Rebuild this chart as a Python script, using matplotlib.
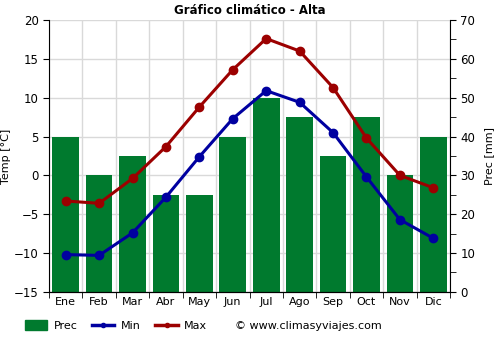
import numpy as np
import matplotlib.pyplot as plt
from matplotlib.lines import Line2D
from matplotlib.patches import Patch

months = ["Ene", "Feb", "Mar", "Abr", "May", "Jun", "Jul", "Ago", "Sep", "Oct", "Nov", "Dic"]
prec = [40, 30, 35, 25, 25, 40, 50, 45, 35, 45, 30, 40]
t_min = [-10.2, -10.3, -7.4, -2.8, 2.4, 7.3, 10.9, 9.4, 5.5, -0.2, -5.7, -8.1]
t_max = [-3.3, -3.6, -0.4, 3.7, 8.8, 13.6, 17.6, 16.0, 11.3, 4.8, 0.0, -1.6]

green = "#007a2e"
blue = "#0000a0"
red = "#9c0000"

fig = plt.figure(figsize=(5, 3.5), dpi=100)
ax = fig.add_axes([0.098, 0.166, 0.802, 0.777])
ax2 = ax.twinx()

x = np.arange(len(months))

# precipitation bars on the right axis, drawn behind the temperature lines
ax2.bar(x, prec, width=0.8, color=green, zorder=2)
ax2.set_ylim(0, 70)
ax2.set_yticks(np.arange(0, 71, 10))
ax2.set_yticks(np.arange(0, 71, 5), minor=True)
ax2.set_ylabel("Prec [mm]", fontsize=8, labelpad=6)
ax2.tick_params(labelsize=8.5, length=4)
ax2.tick_params(which="minor", length=4)

ax.set_zorder(ax2.get_zorder() + 1)
ax.patch.set_visible(False)
ax2.patch.set_visible(True)

ax.plot(x, t_min, color=blue, lw=2.2, marker="o", ms=6, zorder=3)
ax.plot(x, t_max, color=red, lw=2.2, marker="o", ms=6, zorder=3)
ax.set_ylim(-15, 20)
ax.set_yticks(np.arange(-15, 21, 5))
ax.set_xlim(-0.5, 11.5)
ax.set_xticks(x)
ax.set_xticklabels(months)
ax.set_xticks(np.arange(-0.5, 12, 1), minor=True)
ax.tick_params(axis="x", which="major", length=0, labelsize=8)
ax.tick_params(axis="x", which="minor", length=4)
ax.tick_params(axis="y", labelsize=8.5, length=4)
ax.set_ylabel("Temp [°C]", fontsize=8, labelpad=2)

# grid on the background axes so it sits under the bars
ax2.grid(False)
for yv in np.arange(-15, 21, 5):
    ax2.axhline((yv + 15) * 2, color="#d9d9d9", lw=1, zorder=0)
for xv in np.arange(-0.5, 12, 1):
    ax2.axvline(xv, color="#d9d9d9", lw=1, zorder=0)

for a in (ax, ax2):
    a.spines["top"].set_visible(False)
ax.spines["right"].set_visible(False)
ax2.spines["left"].set_visible(False)

ax.set_title("Gráfico climático - Alta", fontsize=8.5, fontweight="bold", pad=4)

handles = [
    Patch(color=green, label="Prec"),
    Line2D([0], [0], color=blue, lw=2.5, marker="o", ms=3, label="Min"),
    Line2D([0], [0], color=red, lw=2.5, marker="o", ms=3, label="Max"),
]
fig.legend(handles=handles, loc="center left", bbox_to_anchor=(0.03, 0.069), ncol=3,
           frameon=False, fontsize=8, handlelength=2.0, handleheight=1.0,
           handletextpad=0.6, columnspacing=1.3)
fig.text(0.47, 0.069, "\u00a9 www.climasyviajes.com", fontsize=8, va="center")

fig.savefig("out.png", dpi=100)
